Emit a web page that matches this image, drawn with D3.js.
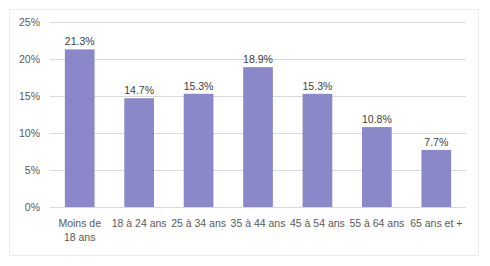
<!DOCTYPE html>
<html>
<head>
<meta charset="utf-8">
<style>
body { margin: 0; background: #fff; }
text { font-family: "Liberation Sans", Arial, sans-serif; }
</style>
</head>
<body>
<script src="https://cdn.jsdelivr.net/npm/d3@7"></script>
<script>
var categories = ["Moins de 18 ans", "18 à 24 ans", "25 à 34 ans", "35 à 44 ans", "45 à 54 ans", "55 à 64 ans", "65 ans et +"];
var values = [21.3, 14.7, 15.3, 18.9, 15.3, 10.8, 7.7];
var yTicks = [0, 5, 10, 15, 20, 25];

var width = 490, height = 266;
var margin = {top: 22, left: 50, right: 24, bottom: 59};

var svg = d3.select("body").append("svg")
    .attr("width", width)
    .attr("height", height);

// chart frame
svg.append("rect")
    .attr("x", 9.5).attr("y", 9.5)
    .attr("width", 469).attr("height", 246)
    .attr("fill", "#fff")
    .attr("stroke", "#ececec");

var x = d3.scaleBand()
    .domain(categories)
    .range([margin.left, width - margin.right])
    .paddingInner(0.5)
    .paddingOuter(0.25);

var y = d3.scaleLinear()
    .domain([0, 25])
    .range([height - margin.bottom, margin.top]);

// grid
svg.append("g")
    .selectAll("line")
    .data(yTicks)
    .enter().append("line")
    .attr("x1", margin.left).attr("x2", width - margin.right)
    .attr("y1", function(d) { return Math.round(y(d)) + 0.5; })
    .attr("y2", function(d) { return Math.round(y(d)) + 0.5; })
    .attr("stroke", "#d9d9d9")
    .attr("stroke-width", 1);

var yAxis = svg.append("g")
    .attr("transform", "translate(" + (margin.left - 7) + ",0)")
    .call(d3.axisLeft(y).tickValues(yTicks).tickSize(0).tickFormat(function(d) { return d + "%"; }));
yAxis.select(".domain").remove();
yAxis.selectAll("text")
    .attr("fill", "#595959")
    .style("font-size", "10.5px");

// bars
svg.append("g")
    .selectAll("rect")
    .data(values)
    .enter().append("rect")
    .attr("x", function(d, i) { return x(categories[i]); })
    .attr("y", function(d) { return y(d); })
    .attr("width", x.bandwidth())
    .attr("height", function(d) { return y(0) - y(d); })
    .attr("fill", "#8a88c9");

// data labels
svg.append("g")
    .selectAll("text")
    .data(values)
    .enter().append("text")
    .attr("x", function(d, i) { return x(categories[i]) + x.bandwidth() / 2; })
    .attr("y", function(d) { return y(d) - 4; })
    .attr("text-anchor", "middle")
    .attr("fill", "#404040")
    .style("font-size", "10.5px")
    .text(function(d) { return d.toFixed(1) + "%"; });

// x labels
var xAxis = svg.append("g")
    .attr("transform", "translate(0," + y(0) + ")")
    .call(d3.axisBottom(x).tickSize(0).tickFormat(""));
xAxis.select(".domain").remove();

var labelLines = [["Moins de", "18 ans"], ["18 à 24 ans"], ["25 à 34 ans"], ["35 à 44 ans"], ["45 à 54 ans"], ["55 à 64 ans"], ["65 ans et +"]];
svg.append("g")
    .selectAll("text")
    .data(categories)
    .enter().append("text")
    .attr("x", function(d) { return x(d) + x.bandwidth() / 2; })
    .attr("y", y(0) + 20)
    .attr("text-anchor", "middle")
    .attr("fill", "#595959")
    .style("font-size", "10.5px")
    .each(function(d, i) {
        var t = d3.select(this);
        labelLines[i].forEach(function(line, j) {
            t.append("tspan")
                .attr("x", x(d) + x.bandwidth() / 2)
                .attr("dy", j === 0 ? 0 : 14)
                .text(line);
        });
    });
</script>
</body>
</html>
